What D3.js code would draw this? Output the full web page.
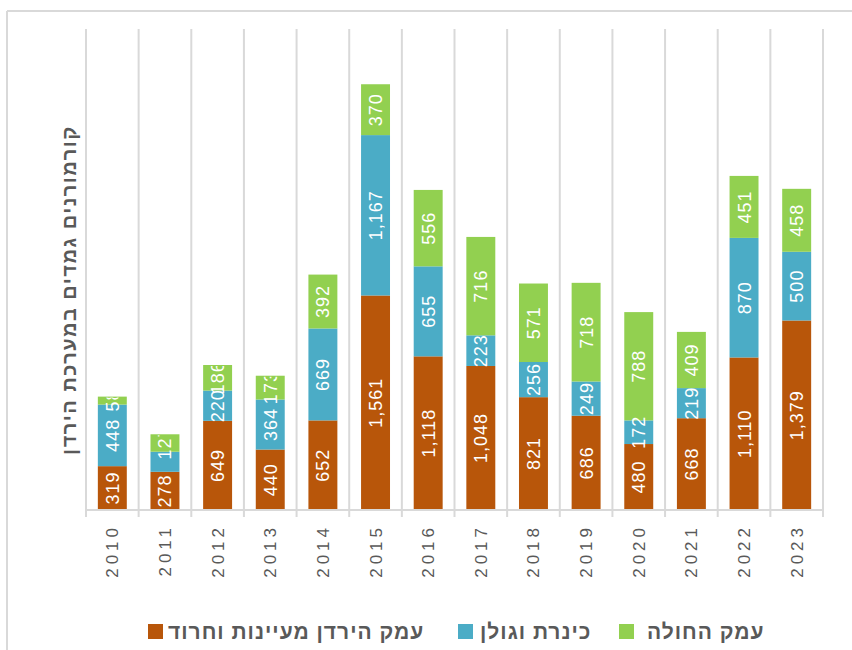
<!DOCTYPE html>
<html><head><meta charset="utf-8">
<script src="https://cdn.jsdelivr.net/npm/d3@7/dist/d3.min.js"></script>
<style>body{margin:0;background:#fff}svg{display:block}</style>
</head><body>
<svg id="c" width="852" height="650"></svg>
<script>
const years = ["2010","2011","2012","2013","2014","2015","2016","2017","2018","2019","2020","2021","2022","2023"];
const jordanValley = [319,278,649,440,652,1561,1118,1048,821,686,480,668,1110,1379];
const kinneretGolan = [448,146,220,364,669,1167,655,223,256,249,172,219,870,500];
const hulaValley = [58,127,186,173,392,370,556,716,571,718,788,409,451,458];
// data labels not shown in the reference (year, series index)
const hiddenLabels = [["2011",1]];
const seriesNames = ["עמק הירדן מעיינות וחרוד","כינרת וגולן","עמק החולה"];
const seriesColors = ["#B8560A","#4BACC6","#92D050"];
const yTitle = "קורמורנים גמדים במערכת הירדן";
const yMax = 3500;

const svg = d3.select("#c");
const font = "'Liberation Sans', Arial, sans-serif";
const grid = "#d9d9d9";

svg.append("line").attr("x1",7).attr("x2",852).attr("y1",11).attr("y2",11).attr("stroke",grid).attr("stroke-width",2);
svg.append("line").attr("x1",7).attr("x2",7).attr("y1",11).attr("y2",650).attr("stroke",grid).attr("stroke-width",2);

const x = d3.scaleBand().domain(years).range([86,823]).paddingInner(0.45).paddingOuter(0.225);
const y = d3.scaleLinear().domain([0,yMax]).range([510,29]);

const bounds = d3.range(years.length+1).map(i => 86 + i*x.step());
svg.append("g").selectAll("line").data(bounds).join("line")
  .attr("x1",d=>d).attr("x2",d=>d).attr("y1",y(yMax)).attr("y2",517)
  .attr("stroke",grid).attr("stroke-width",2);

const rows = years.map((yr,i)=>({year:yr, s0:jordanValley[i], s1:kinneretGolan[i], s2:hulaValley[i]}));
const stack = d3.stack().keys(["s0","s1","s2"])(rows);

const defs = svg.append("defs");
rows.forEach((r,i)=>{
  defs.append("clipPath").attr("id","clip"+i).append("rect")
    .attr("x",x(r.year)-2).attr("width",x.bandwidth()+4)
    .attr("y",y(r.s0+r.s1+r.s2)+1).attr("height",y(0)-y(r.s0+r.s1+r.s2));
});

stack.forEach((layer,k)=>{
  svg.append("g").selectAll("rect").data(layer).join("rect")
    .attr("x",d=>x(d.data.year)).attr("width",x.bandwidth())
    .attr("y",d=>y(d[1])).attr("height",d=>y(d[0])-y(d[1]))
    .attr("fill",seriesColors[k]);
});

svg.append("line").attr("x1",86).attr("x2",823).attr("y1",510).attr("y2",510).attr("stroke",grid).attr("stroke-width",2);

const fmt = d3.format(",");
stack.forEach((layer,k)=>{
  const shown = layer.filter(d=>!hiddenLabels.some(h=>h[0]===d.data.year && h[1]===k));
  svg.append("g").selectAll("g").data(shown).join("g")
    .attr("clip-path",d=>`url(#clip${years.indexOf(d.data.year)})`)
    .append("text")
    .attr("transform",d=>`translate(${x(d.data.year)+x.bandwidth()/2+6.5},${(y(d[0])+y(d[1]))/2}) rotate(-90)`)
    .attr("text-anchor","middle")
    .attr("font-family",font).attr("font-size",18).attr("letter-spacing",1)
    .attr("fill","#fff")
    .text(d=>fmt(d[1]-d[0]));
});

svg.append("g").selectAll("text").data(years).join("text")
  .attr("transform",d=>`translate(${x(d)+x.bandwidth()/2+6},524) rotate(-90)`)
  .attr("text-anchor","end")
  .attr("font-family",font).attr("font-size",17).attr("letter-spacing",4)
  .attr("fill","#595959")
  .text(d=>d);

svg.append("text")
  .attr("transform","translate(76,290) rotate(-90)")
  .attr("text-anchor","middle").attr("direction","rtl")
  .attr("font-family",font).attr("font-size",20).attr("font-weight","bold").attr("letter-spacing",1.5)
  .attr("fill","#595959")
  .text(yTitle);

const legendPos = [{sq:148, tx:168},{sq:458, tx:480},{sq:619, tx:647}];
seriesNames.forEach((n,k)=>{
  svg.append("rect").attr("x",legendPos[k].sq).attr("y",624).attr("width",15).attr("height",15).attr("fill",seriesColors[k]);
  svg.append("text").attr("x",legendPos[k].tx).attr("y",639)
    .attr("font-family",font).attr("font-size",21).attr("font-weight","bold").attr("letter-spacing",1)
    .attr("fill","#595959").attr("direction","ltr").attr("unicode-bidi","plaintext")
    .text(n);
});
</script>
</body></html>
